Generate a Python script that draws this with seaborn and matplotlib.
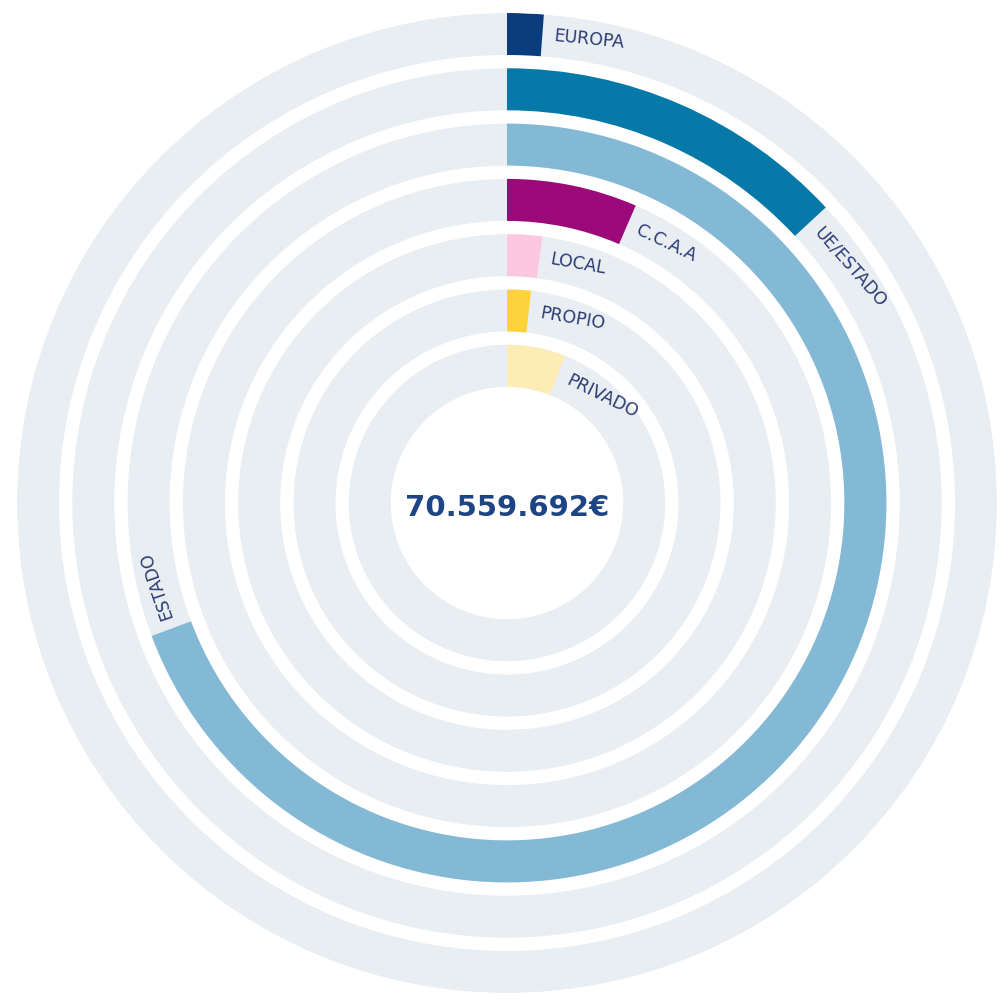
import numpy as np
import matplotlib
matplotlib.use("Agg")
import matplotlib.pyplot as plt
import seaborn as sns

sns.set_theme(style="white")
plt.rcParams['font.family'] = ['DejaVu Sans']

# Data: share of funding per source (% of the total)
categories = ["EUROPA", "UE/ESTADO", "ESTADO", "C.C.A.A", "LOCAL", "PROPIO", "PRIVADO"]
shares = [1.2, 13.1, 69.3, 6.5, 2.1, 1.8, 6.0]
total_label = "70.559.692€"

colors = sns.color_palette(["#0b3d7e", "#0779a8", "#84b9d6", "#9b0a78",
                            "#fcc8df", "#fdd23a", "#fdedb5"])
track_color = "#e9eef3"
text_color = "#2c3c74"

W, H = 1003, 1000
fig = plt.figure(figsize=(W / 100, H / 100), dpi=100)
fig.patch.set_facecolor("white")

# polar axes sized so that one radial unit = one pixel
R = 490
cx, cy = 507, 503
ax = fig.add_axes([(cx - R) / W, (H - cy - R) / H, 2 * R / W, 2 * R / H],
                  projection="polar")
ax.set_theta_zero_location("N")
ax.set_theta_direction(-1)
ax.set_ylim(0, R)
ax.set_axis_off()

pitch, width = 55.3, 42
for i, (cat, share) in enumerate(zip(categories, shares)):
    outer = R - i * pitch
    inner = outer - width
    mid = (outer + inner) / 2
    # background track
    ax.bar(0, width, width=2 * np.pi, bottom=inner, align="edge",
           color=track_color, linewidth=0)
    # value arc
    theta = share / 100 * 2 * np.pi
    ax.bar(0, width, width=theta, bottom=inner, align="edge",
           color=colors[i], linewidth=0)
    # label just after the end of the arc, running along the ring
    t = theta + 11 / mid
    rot = -np.degrees(t)
    ax.text(t, mid, cat, rotation=rot, rotation_mode="anchor",
            ha="left", va="center", fontsize=12.5, color=text_color)

fig.text(cx / W, 1 - 508 / H, total_label, ha="center", va="center",
         fontsize=21, fontweight="bold", color="#1d4585")

fig.savefig("out.png", dpi=100, facecolor="white")
